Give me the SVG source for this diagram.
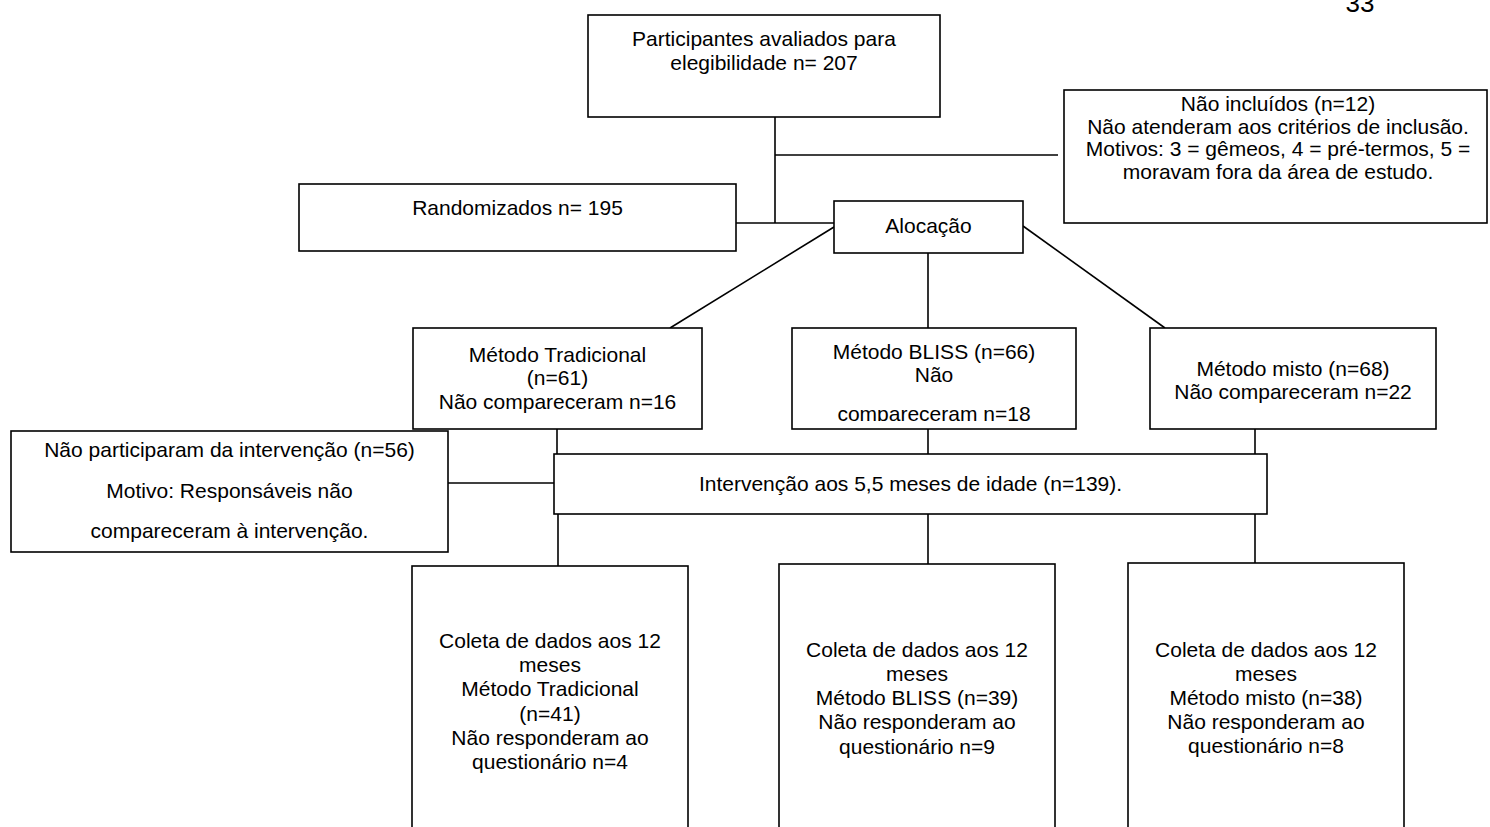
<svg xmlns="http://www.w3.org/2000/svg" width="1490" height="827" viewBox="0 0 1490 827">
<style>
.box{fill:#fff;stroke:#000;stroke-width:1.6}
.ln{stroke:#000;stroke-width:1.6;fill:none}
.t{font-family:"Liberation Sans",Arial,sans-serif;font-size:21px;text-anchor:middle;fill:#000}
</style>
<defs>
<clipPath id="clipBliss"><rect x="792" y="328" width="284" height="93"/></clipPath>
</defs>
<rect width="1490" height="827" fill="#fff"/>
<text class="t" x="1360" y="12" style="font-size:26px">33</text>

<g id="connectors">
<line class="ln" x1="775" y1="117" x2="775" y2="223"/>
<line class="ln" x1="775" y1="155" x2="1058" y2="155"/>
<line class="ln" x1="736" y1="223" x2="834" y2="223"/>
<line class="ln" x1="834" y1="227" x2="670" y2="328"/>
<line class="ln" x1="928" y1="253" x2="928" y2="328"/>
<line class="ln" x1="1023" y1="226" x2="1165" y2="328"/>
<line class="ln" x1="557" y1="429" x2="557" y2="454"/>
<line class="ln" x1="928" y1="429" x2="928" y2="454"/>
<line class="ln" x1="1255" y1="429" x2="1255" y2="454"/>
<line class="ln" x1="448" y1="483" x2="554" y2="483"/>
<line class="ln" x1="558" y1="514" x2="558" y2="566"/>
<line class="ln" x1="928" y1="514" x2="928" y2="564"/>
<line class="ln" x1="1255" y1="514" x2="1255" y2="563"/>
</g>

<g id="n-avaliados">
<rect class="box" x="588" y="15" width="352" height="102"/>
<text class="t" x="764" y="46">Participantes avaliados para</text>
<text class="t" x="764" y="70">elegibilidade n= 207</text>
</g>

<g id="n-naoincluidos">
<rect class="box" x="1064" y="90" width="423" height="133"/>
<text class="t" x="1278" y="111">Não incluídos (n=12)</text>
<text class="t" x="1278" y="133.5">Não atenderam aos critérios de inclusão.</text>
<text class="t" x="1278" y="156">Motivos: 3 = gêmeos, 4 = pré-termos, 5 =</text>
<text class="t" x="1278" y="178.5">moravam fora da área de estudo.</text>
</g>

<g id="n-randomizados">
<rect class="box" x="299" y="184" width="437" height="67"/>
<text class="t" x="517.5" y="215">Randomizados n= 195</text>
</g>

<g id="n-alocacao">
<rect class="box" x="834" y="201" width="189" height="52"/>
<text class="t" x="928.5" y="233">Alocação</text>
</g>

<g id="n-tradicional">
<rect class="box" x="413" y="328" width="289" height="101"/>
<text class="t" x="557.5" y="362">Método Tradicional</text>
<text class="t" x="557.5" y="385">(n=61)</text>
<text class="t" x="557.5" y="409">Não compareceram n=16</text>
</g>

<g id="n-bliss">
<rect class="box" x="792" y="328" width="284" height="101"/>
<text class="t" x="934" y="359">Método BLISS (n=66)</text>
<text class="t" x="934" y="382">Não</text>
<text class="t" x="934" y="421" clip-path="url(#clipBliss)">compareceram n=18</text>
</g>

<g id="n-misto">
<rect class="box" x="1150" y="328" width="286" height="101"/>
<text class="t" x="1293" y="376">Método misto (n=68)</text>
<text class="t" x="1293" y="399">Não compareceram n=22</text>
</g>

<g id="n-naoparticiparam">
<rect class="box" x="11" y="431" width="437" height="121"/>
<text class="t" x="229.5" y="457">Não participaram da intervenção (n=56)</text>
<text class="t" x="229.5" y="497.5">Motivo: Responsáveis não</text>
<text class="t" x="229.5" y="537.5">compareceram à intervenção.</text>
</g>

<g id="n-intervencao">
<rect class="box" x="554" y="454" width="713" height="60"/>
<text class="t" x="910.5" y="491">Intervenção aos 5,5 meses de idade (n=139).</text>
</g>

<g id="n-coleta-tradicional">
<rect class="box" x="412" y="566" width="276" height="280"/>
<text class="t" x="550" y="648">Coleta de dados aos 12</text>
<text class="t" x="550" y="672">meses</text>
<text class="t" x="550" y="696">Método Tradicional</text>
<text class="t" x="550" y="720.5">(n=41)</text>
<text class="t" x="550" y="745">Não responderam ao</text>
<text class="t" x="550" y="769">questionário n=4</text>
</g>

<g id="n-coleta-bliss">
<rect class="box" x="779" y="564" width="276" height="280"/>
<text class="t" x="917" y="657">Coleta de dados aos 12</text>
<text class="t" x="917" y="681">meses</text>
<text class="t" x="917" y="705">Método BLISS (n=39)</text>
<text class="t" x="917" y="729">Não responderam ao</text>
<text class="t" x="917" y="754">questionário n=9</text>
</g>

<g id="n-coleta-misto">
<rect class="box" x="1128" y="563" width="276" height="280"/>
<text class="t" x="1266" y="657">Coleta de dados aos 12</text>
<text class="t" x="1266" y="681">meses</text>
<text class="t" x="1266" y="705">Método misto (n=38)</text>
<text class="t" x="1266" y="729">Não responderam ao</text>
<text class="t" x="1266" y="753">questionário n=8</text>
</g>
</svg>
